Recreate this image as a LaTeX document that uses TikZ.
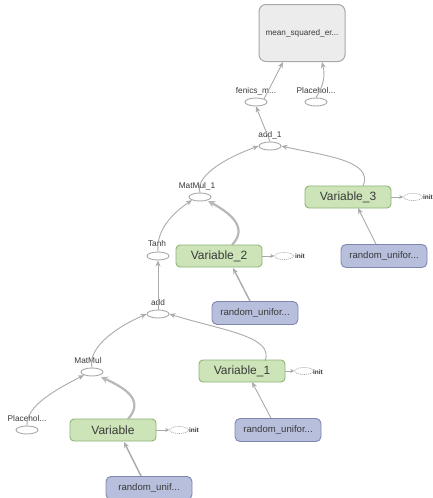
\documentclass[tikz,border=0pt]{standalone}
\usepackage{fontspec}
\setmainfont{Liberation Sans}
\usetikzlibrary{arrows.meta,shapes.geometric}
\definecolor{edgec}{HTML}{ABABAB}
\definecolor{greenf}{HTML}{CCE4B8}
\definecolor{greend}{HTML}{8DB576}
\definecolor{bluef}{HTML}{B7BFDC}
\definecolor{blued}{HTML}{7D87AE}
\definecolor{grayf}{HTML}{ECECEC}
\definecolor{grayd}{HTML}{A8A8A8}
\definecolor{txt}{HTML}{3A3A3A}
\tikzset{
  op/.style={draw=grayd, line width=0.9pt, ellipse, minimum width=22pt, minimum height=8pt, inner sep=0pt, fill=white},
  oplabel/.style={text=txt, font=\fontsize{8.3}{9}\selectfont, inner sep=0pt},
  varbox/.style={draw=greend, fill=greenf, rounded corners=4pt, line width=0.9pt, minimum width=86pt, minimum height=22pt, inner sep=0pt, text=txt, font=\fontsize{12}{14}\selectfont},
  randbox/.style={draw=blued, fill=bluef, rounded corners=5pt, line width=0.9pt, minimum width=86pt, minimum height=23pt, inner sep=0pt, text=txt, font=\fontsize{9.6}{11}\selectfont},
  initop/.style={draw=grayd, dash pattern=on 1.2pt off 0.8pt, ellipse, minimum width=19pt, minimum height=7pt, inner sep=0pt, line width=0.6pt},
  inittxt/.style={text=txt, font=\bfseries\fontsize{6.5}{7}\selectfont, inner sep=0pt},
  edge/.style={draw=edgec, line width=0.9pt, -{Stealth[length=6pt,width=5pt]}},
  thick edge/.style={draw=edgec!85, line width=2.2pt, -{Stealth[length=7pt,width=7pt]}},
  initedge/.style={draw=grayd, dash pattern=on 1.2pt off 0.8pt, line width=0.6pt, -{Stealth[length=4pt,width=4pt]}},
}
\begin{document}
\begin{tikzpicture}[x=1pt,y=-1pt]
\useasboundingbox[fill=white] (0,0) rectangle (432,498);

% top node
\node[draw=grayd, fill=grayf, rounded corners=7pt, line width=1pt, minimum width=86pt, minimum height=57pt, inner sep=0pt, text=txt, font=\fontsize{8.2}{9}\selectfont] (mse) at (302,33) {mean\_squared\_er...};

% ops
\node[op] (fen) at (256,102) {};
\node[oplabel] (fenL) at (256,91) {fenics\_m...};
\node[op] (ph1) at (316,102) {};
\node[oplabel] (ph1L) at (316,91) {Placehol...};
\node[op] (add1) at (270,146) {};
\node[oplabel] (add1L) at (270,135) {add\_1};
\node[op] (mm1) at (200,197) {};
\node[oplabel] (mm1L) at (197,186) {MatMul\_1};
\node[op] (tanh) at (158,256) {};
\node[oplabel] (tanhL) at (157,244) {Tanh};
\node[op] (add) at (158,314) {};
\node[oplabel] (addL) at (158,303) {add};
\node[op] (mm) at (92,372) {};
\node[oplabel] (mmL) at (88,361) {MatMul};
\node[op] (ph0) at (27,430) {};
\node[oplabel] (ph0L) at (27,419) {Placehol...};

% variables
\node[varbox] (v3) at (348,197) {Variable\_3};
\node[varbox] (v2) at (219,256) {Variable\_2};
\node[varbox] (v1) at (242,371) {Variable\_1};
\node[varbox] (v0) at (113,430) {Variable};

% random uniform
\node[randbox] (r3) at (384,256) {random\_unifor...};
\node[randbox] (r2) at (255,313) {random\_unifor...};
\node[randbox] (r1) at (278,430) {random\_unifor...};
\node[randbox] (r0) at (149,488) {random\_unif...};

% init
\node[initop] (i3) at (413,197) {};
\node[inittxt] (i3L) at (428,197) {init};
\node[initop] (i2) at (284,256) {};
\node[inittxt] (i2L) at (300,256) {init};
\node[initop] (i1) at (304,371) {};
\node[inittxt] (i1L) at (318,372) {init};
\node[initop] (i0) at (179,430) {};
\node[inittxt] (i0L) at (194,430) {init};

\draw[initedge] (v3.east) -- (i3.west);
\draw[initedge] (v2.east) -- (i2.west);
\draw[initedge] (v1.east) -- (i1.west);
\draw[initedge] (v0.east) -- (i0.west);

% edges
\draw[edge] (fen.north east) -- (283,62);
\draw[edge] (ph1.north) .. controls (322,88) and (326,78) .. (322,62);
\draw[edge] (add1.north) -- (fen.south);
\draw[edge] (mm1.north) .. controls (195,178) and (220,160) .. (add1.west);
\draw[edge] (363,186) .. controls (375,160) and (320,155) .. (add1.east);
\draw[edge] (r3.north) ++(-8,0) -- (358,208);
\draw[edge] (tanh.north) .. controls (156,232) and (170,215) .. (mm1.south west);
\draw[thick edge] (232,245) .. controls (248,228) and (232,214) .. (208,201);
\draw[edge, line width=1.4pt] (r2.north) ++(-5,0) -- (233,268);
\draw[edge] (add.north) -- (tanh.south);
\draw[edge] (mm.north) .. controls (88,350) and (110,330) .. (add.west);
\draw[edge] (265,361) .. controls (275,336) and (220,330) .. (add.east);
\draw[edge] (r1.north) ++(-7,0) -- (252,382);
\draw[edge] (ph0.north) .. controls (26,406) and (55,390) .. (mm.south west);
\draw[thick edge] (128,419) .. controls (145,400) and (125,388) .. (101,377);
\draw[edge, line width=1.4pt] (r0.north) ++(-8,0) -- (124,442);
\end{tikzpicture}
\end{document}
